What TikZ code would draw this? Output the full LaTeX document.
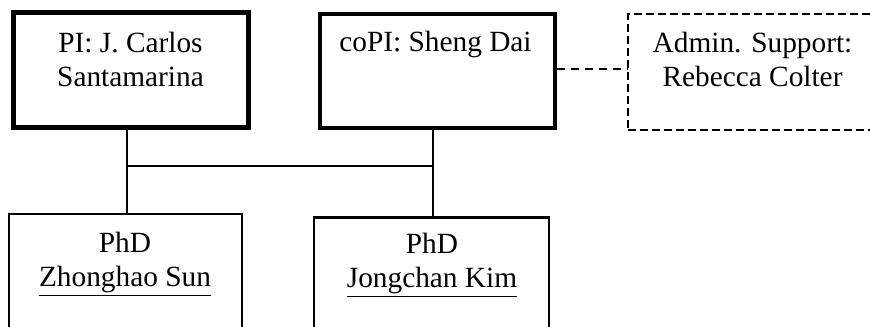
\documentclass[tikz,border=0pt]{standalone}
\usepackage{fontspec}
\setmainfont{Liberation Serif}
\begin{document}
\begin{tikzpicture}[x=0.75pt,y=-0.75pt,
  boxbase/.style={draw=black,rectangle,inner sep=0pt,fill=none},
  pibox/.style={boxbase,line width=3.75pt},
  copibox/.style={boxbase,line width=2.6pt},
  stubox/.style={boxbase,line width=2.2pt},
  adminbox/.style={boxbase,line width=1.5pt,dash pattern=on 6pt off 3pt},
  txt/.style={font=\fontsize{22pt}{25.5pt}\selectfont,align=center,anchor=base,inner sep=0pt},
  conn/.style={line width=0.8pt},
  dconn/.style={line width=1.5pt,dash pattern=on 6pt off 4.5pt}]
\useasboundingbox (0,0) rectangle (870,327);
\clip (0,0) rectangle (870,327);
% boxes
\node[pibox,minimum width=176.25pt,minimum height=86.25pt] (PI) at (130.5,70.5) {};
\node[copibox,minimum width=176.25pt,minimum height=85.5pt] (CO) at (437.5,71) {};
\node[adminbox,minimum width=186.75pt,minimum height=87pt] (AD) at (752.5,72) {};
\node[stubox,minimum width=174.75pt,minimum height=94.5pt] (S1) at (125.5,277) {};
\node[stubox,minimum width=176.25pt,minimum height=92pt] (S2) at (431.5,278.75) {};
% texts (base anchor = last line's baseline)
\node[txt] (tPI) at (130.5,87) {PI: J. Carlos\\Santamarina};
\node[txt] (tCO) at (435.5,52) {coPI: Sheng Dai};
\node[txt] (tAD) at (752.5,87) {Admin. Support:\\Rebecca Colter};
\node[txt] (tS1) at (125,287) {PhD\\\underline{Zhonghao Sun}};
\node[txt] (tS2) at (432,288) {PhD\\\underline{Jongchan Kim}};
% connectors
\coordinate (jl) at (127,166);
\coordinate (jr) at (433,166);
\draw[conn] (jl |- PI.south) -- (jl |- S1.north);
\draw[conn] (jr |- CO.south) -- (jr |- S2.north);
\draw[conn] (jl) -- (jr);
\draw[dconn] (CO.east |- 0,69) -- (AD.west |- 0,69);
\end{tikzpicture}
\end{document}
